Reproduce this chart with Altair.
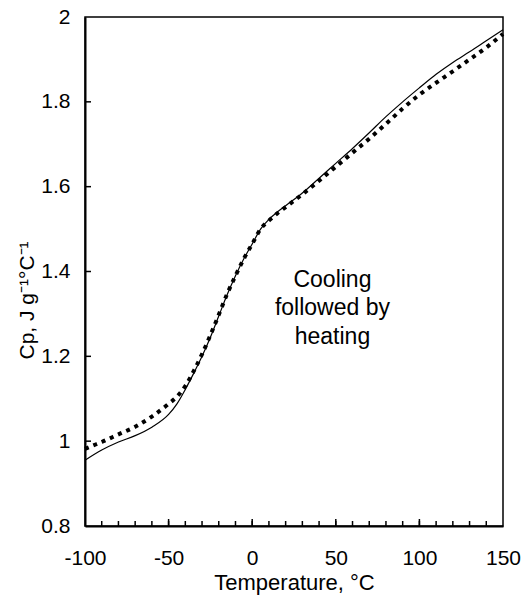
import altair as alt
import pandas as pd

# Solid curve
solid_t = [-100, -90, -80, -70, -60, -50, -45, -40, -35, -30, -25, -20, -15, -10, -5, 0, 5, 10, 15, 20, 30, 40, 50, 60, 70, 80, 90, 100, 110, 120, 130, 140, 150]
solid_cp = [0.955, 0.979, 0.998, 1.013, 1.033, 1.063, 1.088, 1.122, 1.16, 1.2, 1.245, 1.295, 1.345, 1.39, 1.43, 1.465, 1.5, 1.523, 1.54, 1.555, 1.585, 1.62, 1.655, 1.69, 1.727, 1.765, 1.8, 1.833, 1.865, 1.893, 1.918, 1.944, 1.97]

# Dotted curve
dot_t = [-100, -95, -90, -80, -70, -60, -50, -45, -40, -35, -30, -25, -20, -15, -10, -5, 0, 5, 10, 15, 20, 30, 40, 50, 60, 70, 80, 90, 100, 110, 120, 130, 140, 150]
dot_cp = [0.982, 0.99, 0.998, 1.016, 1.034, 1.058, 1.088, 1.105, 1.13, 1.165, 1.205, 1.25, 1.298, 1.347, 1.39, 1.43, 1.465, 1.5, 1.52, 1.537, 1.552, 1.582, 1.614, 1.647, 1.68, 1.713, 1.748, 1.784, 1.817, 1.845, 1.872, 1.9, 1.928, 1.96]

x_minor = list(range(-90, 150, 10))
x_major = [-50, 0, 50, 100]
y_ticks = [1.0, 1.2, 1.4, 1.6, 1.8]

ann_lines = ["Cooling", "followed by", "heating"]

FONT = "Liberation Sans"

solid_df = pd.DataFrame({"t": solid_t, "cp": solid_cp})
dot_df = pd.DataFrame({"t": dot_t, "cp": dot_cp})

xscale = alt.Scale(domain=[-100, 150], nice=False, zero=False)
yscale = alt.Scale(domain=[0.8, 2.0], nice=False, zero=False)

xaxis = alt.Axis(
    title="Temperature, °C", values=[-100, -50, 0, 50, 100, 150],
    labelExpr="datum.value + ''", labelFlush=False, labelBound=False, labelOverlap=False,
    ticks=False, grid=False, domainColor="black", domainWidth=2,
    labelFont=FONT, labelFontSize=21, labelColor="black", labelPadding=21,
    titleFont=FONT, titleFontSize=22, titleFontWeight="normal", titleColor="black",
    titlePadding=4,
)
yaxis = alt.Axis(
    title="Cp, J g⁻¹°C⁻¹", values=[0.8, 1.0, 1.2, 1.4, 1.6, 1.8, 2.0], format=".1~f",
    labelFlush=False, labelBound=False, labelOverlap=False,
    ticks=False, grid=False, domainColor="black", domainWidth=2,
    labelFont=FONT, labelFontSize=21, labelColor="black", labelPadding=15,
    titleFont=FONT, titleFontSize=21, titleFontWeight="normal", titleColor="black",
    titleAngle=270, titleX=-58, titleY=283, titleAlign="center", titleBaseline="middle",
)

solid = alt.Chart(solid_df).mark_line(color="black", strokeWidth=1.2, interpolate="monotone").encode(
    x=alt.X("t:Q", scale=xscale, axis=xaxis),
    y=alt.Y("cp:Q", scale=yscale, axis=yaxis),
)

dotted = alt.Chart(dot_df).mark_line(
    color="black", strokeWidth=4, strokeDash=[4, 5], strokeCap="butt", interpolate="monotone"
).encode(x=alt.X("t:Q", scale=xscale), y=alt.Y("cp:Q", scale=yscale))

minor = alt.Chart(pd.DataFrame({"t": x_minor})).mark_rule(color="black", strokeWidth=1.5).encode(
    x=alt.X("t:Q", scale=xscale), y=alt.value(509), y2=alt.value(504)
)
major = alt.Chart(pd.DataFrame({"t": x_major})).mark_rule(color="black", strokeWidth=1.5).encode(
    x=alt.X("t:Q", scale=xscale), y=alt.value(509), y2=alt.value(502)
)
yt = alt.Chart(pd.DataFrame({"cp": y_ticks})).mark_rule(color="black", strokeWidth=1.5).encode(
    y=alt.Y("cp:Q", scale=yscale), x=alt.value(0), x2=alt.value(6)
)

ann = alt.Chart(pd.DataFrame({"t": [48], "cp": [1.38]})).mark_text(
    font=FONT, fontSize=23, color="black", align="center", baseline="middle", lineHeight=28.5
).encode(
    x=alt.X("t:Q", scale=xscale), y=alt.Y("cp:Q", scale=yscale), text=alt.value(ann_lines)
)

chart = alt.layer(minor, major, yt, solid, dotted, ann).properties(
    width=418, height=509,
    autosize=alt.AutoSizeParams(type="none"),
    padding={"left": 85, "top": 17, "right": 22, "bottom": 71},
    background="white",
).configure_view(stroke="black", strokeWidth=1.5)

chart.save("out.html", embed_options={"renderer": "svg", "actions": False})
